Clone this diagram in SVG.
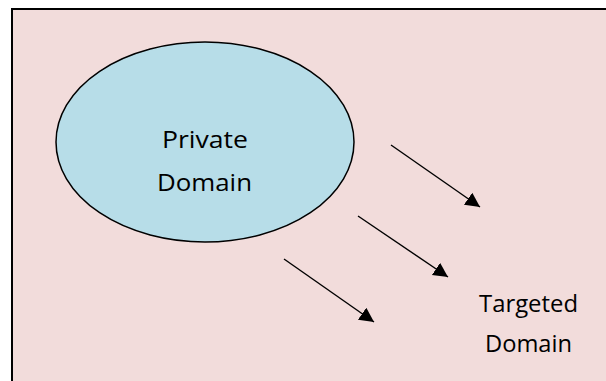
<svg xmlns="http://www.w3.org/2000/svg" width="606" height="381" viewBox="0 0 606 381">
<style>
.lbl{font-family:"Open Sans","Liberation Sans",sans-serif;font-size:24px;fill:#000;text-anchor:middle}
.conn{stroke:#000;stroke-width:1.4;fill:none;marker-end:url(#ah)}
</style>
<defs>
<marker id="ah" markerUnits="userSpaceOnUse" markerWidth="16" markerHeight="16" refX="14.5" refY="7.3" orient="auto">
<path d="M0,0 L14.5,7.3 L0,14.6 z" fill="#000"/>
</marker>
</defs>
<rect x="0" y="0" width="606" height="381" fill="#ffffff"/>
<rect id="frame" x="12" y="9" width="610" height="400" fill="#F2DCDB" stroke="#000" stroke-width="2"/>
<g id="private-domain">
<ellipse cx="205" cy="142" rx="149" ry="100" fill="#B7DDE8" stroke="#000" stroke-width="1.5"/>
<text class="lbl" x="205" y="148" textLength="86" lengthAdjust="spacingAndGlyphs">Private</text>
<text class="lbl" x="204.5" y="191" textLength="95" lengthAdjust="spacingAndGlyphs">Domain</text>
</g>
<g id="targeted-domain">
<text class="lbl" x="528.5" y="312" textLength="99" lengthAdjust="spacingAndGlyphs">Targeted</text>
<text class="lbl" x="528.5" y="352" textLength="87" lengthAdjust="spacingAndGlyphs">Domain</text>
</g>
<g id="connectors">
<line class="conn" x1="391" y1="145" x2="480" y2="207"/>
<line class="conn" x1="358" y1="216" x2="448" y2="277"/>
<line class="conn" x1="284" y1="259" x2="374" y2="322"/>
</g>
</svg>
